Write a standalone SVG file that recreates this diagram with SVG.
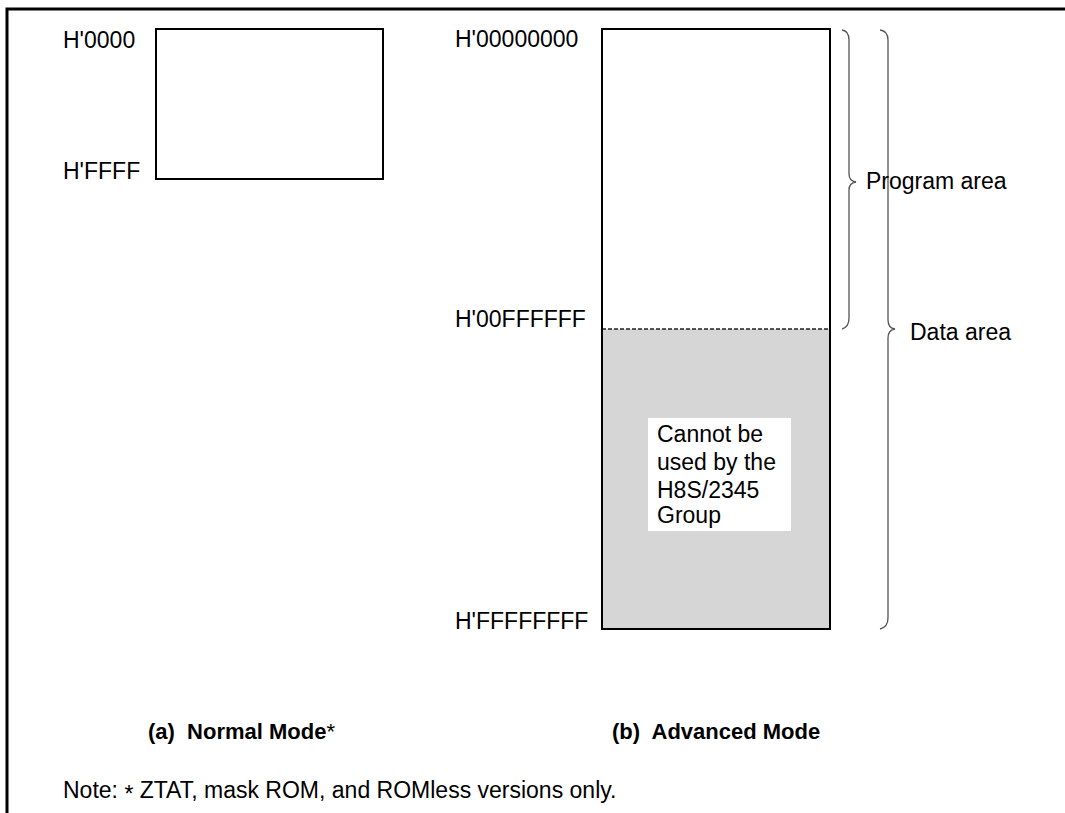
<svg xmlns="http://www.w3.org/2000/svg" width="1065" height="813" viewBox="0 0 1065 813">
<style>
text{font-family:"Liberation Sans",Arial,sans-serif;font-size:23px;fill:#000;white-space:pre}
.b{font-weight:bold;font-size:22px}
.box{fill:#fff;stroke:#000;stroke-width:2}
.brace{fill:none;stroke:#555;stroke-width:1.3}
</style>
<rect width="1065" height="813" fill="#fff"/>
<path d="M7,813 L7,9 L1065,9" fill="none" stroke="#000" stroke-width="3"/>
<g id="normal-map">
<rect class="box" x="156" y="29" width="227" height="150"/>
<text x="63" y="48">H'0000</text>
<text x="63" y="179">H'FFFF</text>
</g>
<g id="advanced-map">
<rect class="box" x="602" y="29" width="228" height="600"/>
<rect x="603" y="329" width="226" height="299" fill="#d6d6d6"/>
<line x1="602" y1="329" x2="830" y2="329" stroke="#222" stroke-width="1.4" stroke-dasharray="4,2"/>
<rect x="602" y="29" width="228" height="600" fill="none" stroke="#000" stroke-width="2"/>
<text x="455" y="47">H'00000000</text>
<text x="455" y="327">H'00FFFFFF</text>
<text x="455" y="629">H'FFFFFFFF</text>
</g>
<g id="unusable-note">
<rect x="648" y="418" width="143" height="113" fill="#fff"/>
<text x="657" y="442">Cannot be</text>
<text x="657" y="470">used by the</text>
<text x="657" y="498">H8S/2345</text>
<text x="657" y="523">Group</text>
</g>
<g id="connectors">
<path class="brace" d="M842,30 Q849,31 849,40 L849,174 Q849,181 856,182 Q849,183 849,190 L849,318 Q849,327 842,329"/>
<path class="brace" d="M880,30 Q888,31 888,40 L888,320 Q888,328 895,329 Q888,330 888,338 L888,618 Q888,627 880,629"/>
</g>
<g id="labels">
<text x="866" y="189">Program area</text>
<text x="910" y="340">Data area</text>
<text class="b" x="148" y="739">(a)  Normal Mode<tspan font-weight="normal">*</tspan></text>
<text class="b" x="612" y="739">(b)  Advanced Mode</text>
<text x="63" y="798">Note: <tspan dy="4">*</tspan><tspan dy="-4"> ZTAT, mask ROM, and ROMless versions only.</tspan></text>
</g>
</svg>
